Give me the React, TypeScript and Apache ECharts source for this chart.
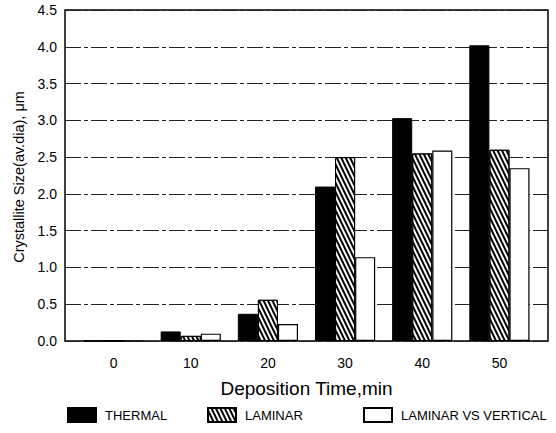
import React, { useEffect, useRef } from "react";
import * as echarts from "echarts";

const categories = ["0", "10", "20", "30", "40", "50"];
const thermal = [0, 0.13, 0.37, 2.1, 3.03, 4.02];
const laminar = [0, 0.07, 0.56, 2.5, 2.55, 2.6];
const laminarVsVertical = [0, 0.1, 0.23, 1.14, 2.59, 2.35];
const seriesNames = ["THERMAL", "LAMINAR", "LAMINAR VS VERTICAL"];
const yAxisTitle = "Crystallite Size(av.dia), μm";
const xAxisTitle = "Deposition Time,min";

const FONT = "Liberation Sans";

export default function App() {
  const ref = useRef<HTMLDivElement>(null);
  useEffect(() => {
    if (!ref.current) return;
    const chart = echarts.init(ref.current, null, { renderer: "svg" });
    const hatch = {
      symbol: "rect",
      symbolSize: 1,
      color: "#000",
      backgroundColor: "#fff",
      dashArrayX: [1, 0],
      dashArrayY: [1.1, 1.9],
      rotation: Math.PI / 2.8,
    };
    const legendBase = {
      bottom: 5,
      itemWidth: 28,
      itemHeight: 14,
      icon: "rect",
      textStyle: { fontSize: 13, color: "#000", fontFamily: FONT, padding: [0, 0, 0, 4] },
    };
    chart.setOption({
      animation: false,
      backgroundColor: "#fff",
      textStyle: { fontFamily: FONT, color: "#000" },
      grid: [
        {
          left: 65,
          right: 8,
          top: 10,
          bottom: 92,
          show: true,
          borderColor: "#000",
          borderWidth: 1.5,
          backgroundColor: "transparent",
        },
        { left: 75, right: 18, top: 10, bottom: 92 },
      ],
      graphic: [
        {
          type: "text",
          x: 19,
          y: 177,
          rotation: Math.PI / 2,
          style: {
            text: yAxisTitle,
            fontSize: 14.5,
            fontFamily: FONT,
            fill: "#000",
            align: "center",
            verticalAlign: "middle",
          },
        },
      ],
      xAxis: [
        { gridIndex: 0, type: "value", min: 0, max: 1, show: false },
        {
          gridIndex: 1,
          type: "category",
          data: categories,
          axisLine: { show: false },
          axisTick: { show: false },
          axisLabel: { fontSize: 14, color: "#000", margin: 15, fontFamily: FONT },
          name: xAxisTitle,
          nameLocation: "middle",
          nameGap: 38,
          nameTextStyle: { fontSize: 19, color: "#000", fontFamily: FONT },
        },
      ],
      yAxis: [
        {
          gridIndex: 0,
          type: "value",
          min: 0,
          max: 4.5,
          interval: 0.5,
          axisLine: { show: false },
          axisTick: { show: false },
          axisLabel: {
            fontSize: 14,
            color: "#000",
            margin: 8,
            fontFamily: FONT,
            formatter: (v: number) => v.toFixed(1),
          },
          splitLine: {
            show: true,
            lineStyle: { color: "#222", type: [16, 3, 4, 3], width: 1 },
          },
        },
        { gridIndex: 1, type: "value", min: 0, max: 4.5, show: false },
      ],
      legend: [
        { ...legendBase, left: 62, data: [seriesNames[0]] },
        { ...legendBase, left: 202, data: [seriesNames[1]] },
        { ...legendBase, left: 358, data: [seriesNames[2]] },
      ],
      series: [
        {
          name: seriesNames[0],
          type: "bar",
          xAxisIndex: 1,
          yAxisIndex: 1,
          data: thermal,
          barGap: "0%",
          barCategoryGap: "22%",
          itemStyle: { color: "#000", borderColor: "#000", borderWidth: 1 },
        },
        {
          name: seriesNames[1],
          type: "bar",
          xAxisIndex: 1,
          yAxisIndex: 1,
          data: laminar,
          barGap: "0%",
          barCategoryGap: "22%",
          itemStyle: { color: "#fff", borderColor: "#000", borderWidth: 1, decal: hatch },
        },
        {
          name: seriesNames[2],
          type: "bar",
          xAxisIndex: 1,
          yAxisIndex: 1,
          data: laminarVsVertical,
          barGap: "0%",
          barCategoryGap: "22%",
          itemStyle: { color: "#fff", borderColor: "#000", borderWidth: 1.2 },
        },
      ],
    });
    return () => chart.dispose();
  }, []);
  return (
    <div
      ref={ref}
      style={{ position: "absolute", left: 0, top: 0, width: 556, height: 433 }}
    />
  );
}
